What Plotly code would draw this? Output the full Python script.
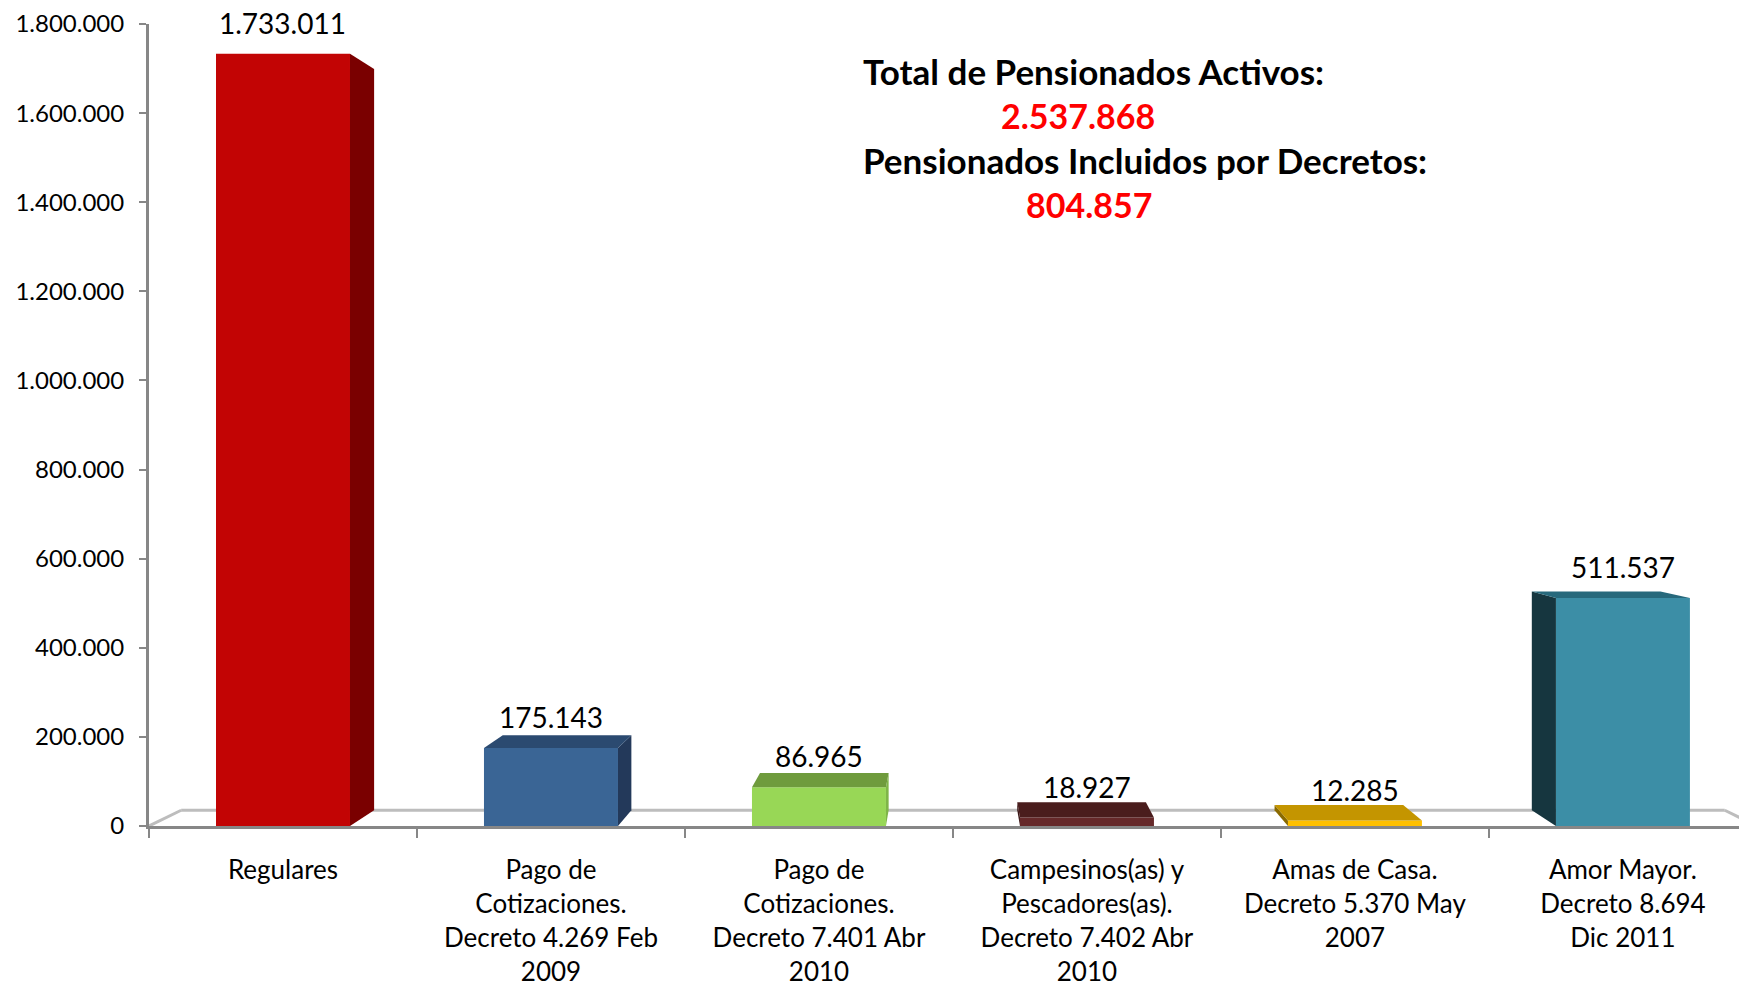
import plotly.graph_objects as go

# ---- data ----
categories = [
    "Regulares",
    "Pago de<br>Cotizaciones.<br>Decreto 4.269 Feb<br>2009",
    "Pago de<br>Cotizaciones.<br>Decreto 7.401 Abr<br>2010",
    "Campesinos(as) y<br>Pescadores(as).<br>Decreto 7.402 Abr<br>2010",
    "Amas de Casa.<br>Decreto 5.370 May<br>2007",
    "Amor Mayor.<br>Decreto 8.694<br>Dic 2011",
]
values = [1733011, 175143, 86965, 18927, 12285, 511537]
front_colors = ["#C20404", "#3A6595", "#98D756", "#66292A", "#FFC000", "#3C8EA6"]
top_colors = ["#8A0000", "#2B4A70", "#6F9B3D", "#4A1D1D", "#C49500", "#27697C"]
side_colors = ["#7A0000", "#23395A", "#7FB548", "#3A1515", "#8A6A00", "#16363F"]
y_ticks = [0, 200000, 400000, 600000, 800000, 1000000, 1200000, 1400000, 1600000, 1800000]

total = sum(values)
decretos = sum(values[1:])


def fmt(v):
    return f"{v:,}".replace(",", ".")


# ---- page / layout geometry (page has an 8px body margin) ----
OFF = 8
W = 1747 - OFF
H = 987 - OFF
ML, MR, MT, MB = 149 - OFF, 0, 22 - OFF, 987 - OFF - (828 - OFF)
X_RANGE = [-0.5, 5.463]
Y_RANGE = [0, 1800000]

# ---- pseudo 3D perspective parameters ----
half = 0.25
depth = 0.04
vp_x = 2.5
vp_y = 885000


def back(x, y):
    return x + depth * (vp_x - x), y + depth * (vp_y - y)


fig = go.Figure()

# side and top faces
xs_idx = list(range(len(values)))
for i, v in zip(xs_idx, values):
    xl, xr = i - half, i + half
    edge = xr if i < vp_x else xl
    b1 = back(edge, v)
    b0 = back(edge, 0)
    fig.add_trace(go.Scatter(
        x=[edge, edge, b1[0], b0[0], edge], y=[0, v, b1[1], b0[1], 0],
        mode="lines", fill="toself", fillcolor=side_colors[i],
        line=dict(width=0), hoverinfo="skip", showlegend=False))
    if v < vp_y:
        bl = back(xl, v)
        br = back(xr, v)
        fig.add_trace(go.Scatter(
            x=[xl, xr, br[0], bl[0], xl], y=[v, v, br[1], bl[1], v],
            mode="lines", fill="toself", fillcolor=top_colors[i],
            line=dict(width=0), hoverinfo="skip", showlegend=False))

# front faces
fig.add_trace(go.Bar(
    x=xs_idx, y=values, width=2 * half,
    marker=dict(color=front_colors, line=dict(width=0)),
    hoverinfo="skip", showlegend=False, cliponaxis=False))

# floor (back edge and sides)
bl0 = back(-0.5, 0)
br0 = back(5.5, 0)
floor_col = "#BDBDBD"
shapes = [
    dict(type="line", xref="x", yref="y", x0=-0.5, y0=0, x1=bl0[0], y1=bl0[1],
         line=dict(color=floor_col, width=3), layer="below"),
    dict(type="line", xref="x", yref="y", x0=bl0[0], y0=bl0[1], x1=br0[0], y1=br0[1],
         line=dict(color=floor_col, width=3), layer="below"),
    dict(type="line", xref="x", yref="y", x0=br0[0], y0=br0[1], x1=5.5, y1=0,
         line=dict(color=floor_col, width=3), layer="below"),
]

# data labels
annotations = []
for i, v in zip(xs_idx, values):
    annotations.append(dict(
        x=i, y=v, xref="x", yref="y", text=fmt(v), showarrow=False,
        yshift=31, yanchor="middle",
        font=dict(family="Lato", size=28, color="#000000")))


def px(xp):
    return (xp - OFF - ML) / (W - ML - MR)


def py(yp):
    return (H - MB - (yp - OFF)) / (H - MT - MB)


bold = dict(family="Lato", size=35, color="#000000")
red = dict(family="Lato", size=34, color="#FF0000")
annotations += [
    dict(xref="paper", yref="paper", x=px(861), y=py(69), xanchor="left", yanchor="middle",
         text="<b>Total de Pensionados Activos:</b>", showarrow=False, font=bold),
    dict(xref="paper", yref="paper", x=px(1078), y=py(114), xanchor="center", yanchor="middle",
         text="<b>" + fmt(total) + "</b>", showarrow=False, font=red),
    dict(xref="paper", yref="paper", x=px(861), y=py(159), xanchor="left", yanchor="middle",
         text="<b>Pensionados Incluidos por Decretos:</b>", showarrow=False, font=bold),
    dict(xref="paper", yref="paper", x=px(1089), y=py(203), xanchor="center", yanchor="middle",
         text="<b>" + fmt(decretos) + "</b>", showarrow=False, font=red),
]

axis_col = "#878787"
fig.update_layout(
    width=W, height=H,
    margin=dict(l=ML, r=MR, t=MT, b=MB, pad=0),
    paper_bgcolor="white", plot_bgcolor="white",
    separators=",.",
    shapes=shapes, annotations=annotations,
    font=dict(family="Lato", color="#000000"),
    xaxis=dict(
        range=X_RANGE, tickmode="array", tickvals=xs_idx, ticktext=categories,
        ticks="", showgrid=False, zeroline=False,
        showline=True, linecolor=axis_col, linewidth=3,
        tickfont=dict(family="Lato", size=26, color="#000000"),
        ticklabelstandoff=19, ticklabeloverflow="allow",
        minor=dict(tickmode="array", tickvals=[k - 0.5 for k in range(7)],
                   ticks="outside", ticklen=9, tickwidth=2, tickcolor=axis_col),
        fixedrange=True,
    ),
    yaxis=dict(
        range=Y_RANGE, tickmode="array", tickvals=y_ticks, tickformat=",d",
        ticks="outside", ticklen=7, tickwidth=2, tickcolor=axis_col,
        showgrid=False, zeroline=False,
        showline=True, linecolor=axis_col, linewidth=3,
        tickfont=dict(family="Lato", size=24, color="#000000"),
        ticklabelstandoff=10, ticklabeloverflow="allow",
        fixedrange=True,
    ),
)

fig.write_html("out.html")
